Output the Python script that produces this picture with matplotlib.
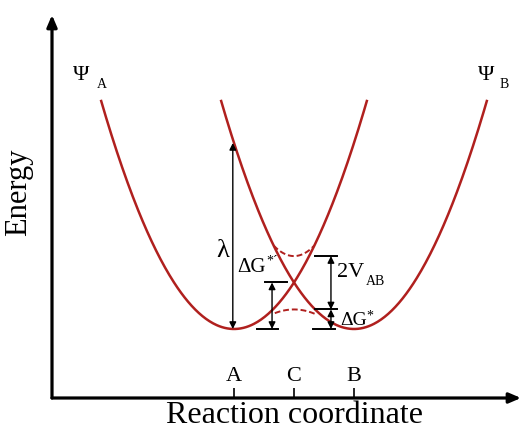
import matplotlib.pyplot as plt
import numpy as np

plt.rcParams['font.family'] = ['Liberation Serif', 'DejaVu Serif']

# reaction coordinate of the two minima and the crossing point
tick_pos = [0.0, 0.5, 1.0]
tick_labels = ['A', 'C', 'B']
q_A, q_C, q_B = tick_pos

lam = 1.0            # reorganisation energy (energy of B well above A minimum)
arm = 1.11           # each well is drawn this far either side of its minimum
E_cross = 0.25       # diabatic crossing, lam/4
E_upper = 0.392      # bottom of upper adiabatic curve
E_lower = 0.105      # top of lower adiabatic curve
upper_span = [0.33, 0.67]
lower_span = [0.34, 0.68]
lower_end_E = 0.085

red = '#b0201e'

fig = plt.figure(figsize=(5.23, 4.30), dpi=100)
ax = fig.add_axes([52 / 523, 32 / 430, 469 / 523, 383 / 430])
ax.set_xlim(-1.517, 2.392)
ax.set_ylim(-0.371, 1.688)
for s in ax.spines.values():
    s.set_visible(False)

# the two diabatic wells
qs = np.linspace(-arm, arm, 300)
ax.plot(q_A + qs, lam * qs**2, color=red, lw=1.8, solid_capstyle='butt')
ax.plot(q_B + qs, lam * qs**2, color=red, lw=1.8, solid_capstyle='butt')

# adiabatic splitting near the crossing (dashed)
qu = np.linspace(upper_span[0], upper_span[1], 50)
end_u = lam * (q_B - upper_span[0])**2
cu = (end_u - E_upper) / (upper_span[0] - q_C)**2
ax.plot(qu, E_upper + cu * (qu - q_C)**2, color=red, lw=1.4, ls=(0, (3, 1.5)))
ql = np.linspace(lower_span[0], lower_span[1], 50)
cl = (E_lower - lower_end_E) / (lower_span[0] - q_C)**2
ax.plot(ql, E_lower - cl * (ql - q_C)**2, color=red, lw=1.4, ls=(0, (3, 1.5)))

# axes as arrows
ax.annotate('', xy=(0, 1), xytext=(0, 0), xycoords='axes fraction',
            arrowprops=dict(arrowstyle='-|>,head_length=0.35,head_width=0.15',
                            lw=2.3, color='k', shrinkA=0, shrinkB=0,
                            mutation_scale=20))
ax.annotate('', xy=(1, 0), xytext=(0, 0), xycoords='axes fraction',
            arrowprops=dict(arrowstyle='-|>,head_length=0.35,head_width=0.15',
                            lw=2.3, color='k', shrinkA=0, shrinkB=0,
                            mutation_scale=20))

ax.set_xticks(tick_pos, tick_labels)
ax.set_yticks([])
ax.tick_params(axis='x', direction='in', length=7, width=1.2, pad=-22,
               labelsize=16)
ax.set_xlabel('Reaction coordinate', fontsize=23)
ax.xaxis.set_label_coords(0.518, -0.008)
ax.set_ylabel('Energy', fontsize=22)
ax.yaxis.set_label_coords(-0.04, 0.538)


def double_arrow(x, y0, y1):
    ax.annotate('', xy=(x, y1), xytext=(x, y0),
                arrowprops=dict(arrowstyle='<|-|>', lw=1.0, color='k',
                                shrinkA=0, shrinkB=0, mutation_scale=10))


def bar(x0, x1, y):
    ax.plot([x0, x1], [y, y], color='k', lw=1.4)


# lambda
double_arrow(-0.01, 0, lam)
ax.text(-0.092, 0.419, 'λ', fontsize=19, ha='center', va='center')

# activation energy without coupling
double_arrow(0.317, 0, E_cross)
bar(0.26, 0.44, E_cross)
bar(0.19, 0.37, 0)
ax.text(0.03, 0.306, 'ΔG', fontsize=15, ha='left', va='baseline')
ax.text(0.27, 0.345, '*´', fontsize=10, ha='left', va='baseline')

# coupling and activation energy with coupling
double_arrow(0.808, E_lower, E_upper)
double_arrow(0.808, 0, E_lower)
bar(0.675, 0.858, E_upper)
bar(0.675, 0.858, E_lower)
bar(0.658, 0.842, 0)
ax.text(0.858, 0.28, '2V', fontsize=16, ha='left', va='baseline')
ax.text(1.095, 0.237, 'AB', fontsize=10, ha='left', va='baseline')
ax.text(0.883, 0.0215, 'ΔG', fontsize=14, ha='left', va='baseline')
ax.text(1.1, 0.05, '*', fontsize=10, ha='left', va='baseline')

# well labels
ax.text(-1.342, 1.339, 'Ψ', fontsize=16, ha='left', va='baseline')
ax.text(-1.142, 1.296, 'A', fontsize=10, ha='left', va='baseline')
ax.text(2.033, 1.339, 'Ψ', fontsize=16, ha='left', va='baseline')
ax.text(2.217, 1.296, 'B', fontsize=10, ha='left', va='baseline')

fig.savefig('out.png', dpi=100)
